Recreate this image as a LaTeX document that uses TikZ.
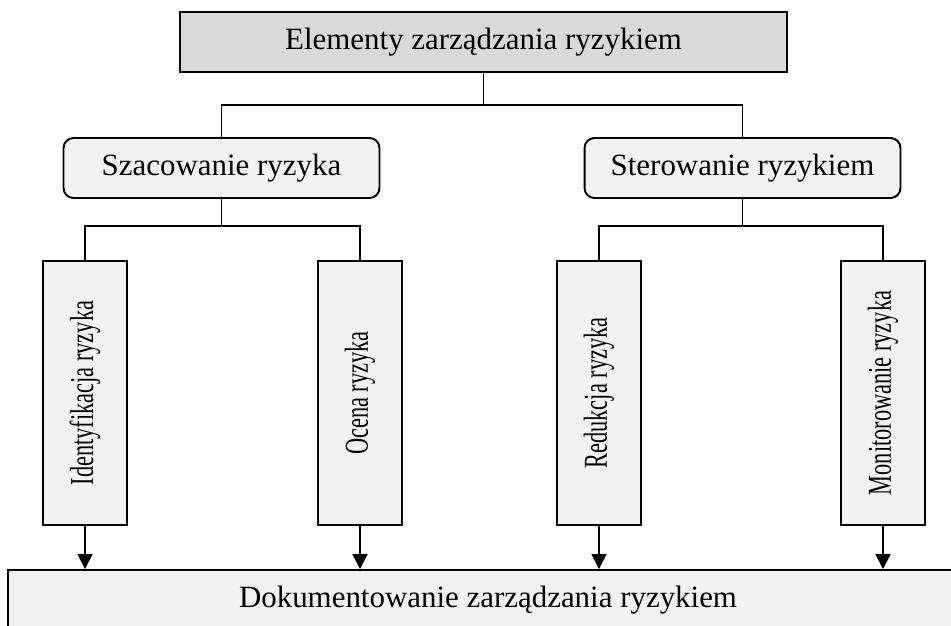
\documentclass[tikz,border=0pt]{standalone}
\usepackage{fontspec}
\setmainfont{Liberation Serif}
\usepackage{tikz}
\usetikzlibrary{arrows.meta}
\tikzset{
  topbox/.style={draw=black,line width=1.1pt,fill=gray!30,inner sep=0pt,minimum width=12.14cm,minimum height=1.2cm,font=\fontsize{17.6}{21}\selectfont},
  phase/.style={draw=black,line width=1.1pt,fill=gray!10,rounded corners=0.2cm,inner sep=0pt,minimum width=6.32cm,minimum height=1.2cm,font=\fontsize{17.6}{21}\selectfont},
  task/.style={draw=black,line width=1.1pt,fill=gray!10,inner sep=0pt,minimum width=1.68cm,minimum height=5.28cm,font=\fontsize{19}{22}\selectfont},
  docbox/.style={draw=black,line width=1.1pt,fill=gray!10,inner sep=0pt,minimum width=19.2cm,minimum height=1.2cm,font=\fontsize{17.6}{21}\selectfont},
  link/.style={draw=black,line width=1pt},
  arr/.style={link,-{Triangle[length=0.3cm,width=0.3cm]}},
}
\newcommand{\vtext}[1]{\rotatebox{90}{\scalebox{0.67}[1]{#1}}}

\begin{document}
\begin{tikzpicture}[x=0.02cm,y=-0.02cm]
  \clip (0,0) rectangle (951,626);
  % boxes
  \node[topbox] (elem) at (483.5,42) {Elementy zarządzania ryzykiem};
  \node[phase] (szac) at (221.5,168) {Szacowanie ryzyka};
  \node[phase] (ster) at (742.5,168) {Sterowanie ryzykiem};
  \node[task] (ident) at (85,393) {\vtext{Identyfikacja ryzyka}};
  \node[task] (ocena) at (360,393) {\vtext{Ocena ryzyka}};
  \node[task] (redu) at (599,393) {\vtext{Redukcja ryzyka}};
  \node[task] (moni) at (883,393) {\vtext{Monitorowanie ryzyka}};
  \node[docbox] (doc) at (488,600) {Dokumentowanie zarządzania ryzykiem};
  % connectors
  \coordinate (j1) at (483.5,105);
  \coordinate (j2) at (221.5,226);
  \coordinate (j3) at (742.5,226);
  \draw[link] (elem.south) -- (j1);
  \draw[link] (szac.north) |- (j1) -| (ster.north);
  \draw[link] (szac.south) -- (j2);
  \draw[link] (ident.north) |- (j2) -| (ocena.north);
  \draw[link] (ster.south) -- (j3);
  \draw[link] (redu.north) |- (j3) -| (moni.north);
  \foreach \t in {ident,ocena,redu,moni}
    \draw[arr] (\t.south) -- (\t.south |- doc.north);
\end{tikzpicture}
\end{document}
